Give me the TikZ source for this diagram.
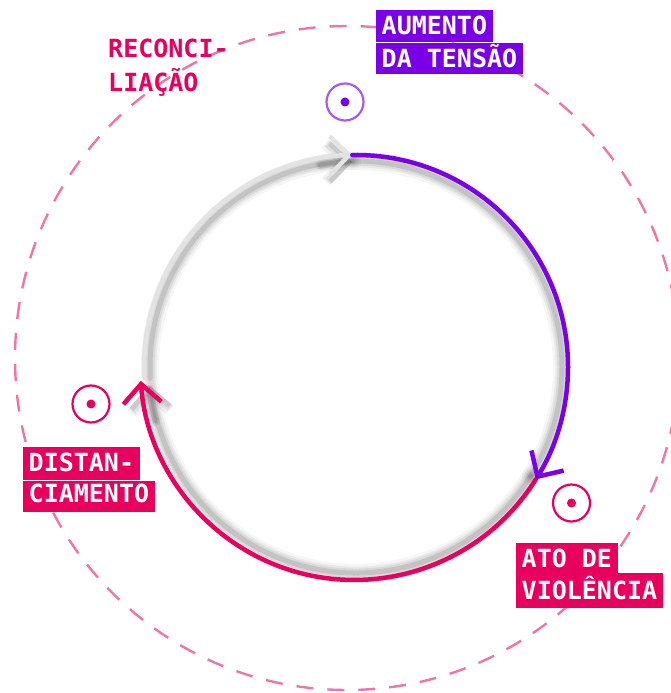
\documentclass[tikz,border=0pt]{standalone}
\usepackage{fontspec}
\newfontfamily\labfont{DejaVu Sans Mono}[BoldFont={DejaVu Sans Mono Bold}]
\usetikzlibrary{arrows.meta,calc}
\definecolor{vio}{HTML}{7A00E6}
\definecolor{rasp}{HTML}{E9005E}
\begin{document}
\begin{tikzpicture}[x=1pt,y=1pt,
  labtxt/.style={font=\labfont\bfseries\fontsize{25}{30}\selectfont, inner ysep=0pt, inner xsep=5.5pt, anchor=base west},
  lab/.style={labtxt, text=white, text height=25pt, text depth=7pt},
  marker/.style={draw, line width=2.2pt, circle, minimum size=37pt, inner sep=0pt},
  barb/.style={-{Straight Barb[length=19pt, width=38pt]}},
  ring/.style={line width=4.5pt, line cap=round},
  shadowline/.style={black, line cap=round}
]
\useasboundingbox (0,0) rectangle (671,693);
\coordinate (c) at (356,326);
\coordinate (oc) at (347,335);

% outer dashed circle
\draw[rasp!55!white, line width=2.4pt, dash pattern=on 17pt off 14pt, dash phase=5pt] (oc) circle[radius=332];

% shadows
\foreach \w/\o in {18/0.035, 13/0.05, 9/0.07, 5/0.1}{
  \draw[shadowline, opacity=\o, line width=\w pt] ($(c)+(183:206)$) arc[start angle=183, end angle=91, radius=206];
  \draw[shadowline, opacity=\o, line width=\w pt] ($(c)+(91:206)$) arc[start angle=91, end angle=-32, radius=206];
  \draw[shadowline, opacity=\o, line width=\w pt] ($(c)+(-32:206)$) arc[start angle=-32, end angle=-174, radius=206];
}
\foreach \w/\o in {11/0.05, 8/0.07, 5/0.1}{
  \draw[shadowline, opacity=\o, line width=\w pt, barb] ($(c)+(100:205)$) arc[start angle=100, end angle=91, radius=205];
  \draw[shadowline, opacity=\o, line width=\w pt, barb] ($(c)+(-165:208)$) arc[start angle=-165, end angle=-175, radius=208];
}

% main arcs
\draw[ring, gray!22, barb] ($(c)+(183:212)$) arc[start angle=183, end angle=91, radius=212];
\draw[ring, rasp, barb] ($(c)+(-32:212)$) arc[start angle=-32, end angle=-176, radius=214];
\draw[ring, vio, barb] ($(c)+(91:212)$) arc[start angle=91, end angle=-32, radius=212];

% markers
\node[marker, draw=vio!65!white] (mkA) at (345,591) {};
\fill[vio] (mkA.center) circle[radius=4.5];
\node[marker, draw=rasp] (mkB) at (571.5,190) {};
\fill[rasp] (mkB.center) circle[radius=4.5];
\node[marker, draw=rasp] (mkC) at (91,289) {};
\fill[rasp] (mkC.center) circle[radius=4.5];

% labels
\node[lab, fill=vio] (aum1) at (376,658) {AUMENTO};
\node[lab, fill=vio, text depth=6pt] (aum2) at (376,625) {DA TENSÃO};

\node[labtxt, text=rasp, inner xsep=0pt] (rec1) at (108,635) {RECONCI-};
\node[labtxt, text=rasp, inner xsep=0pt] (rec2) at (108,601) {LIAÇÃO};

\node[lab, fill=rasp, text depth=8pt] (dis1) at (23,221) {DISTAN-};
\node[lab, fill=rasp, text height=22pt, text depth=9pt] (dis2) at (23,190) {CIAMENTO};

\node[lab, fill=rasp, text depth=5pt] (ato1) at (516,125) {ATO DE};
\node[lab, fill=rasp, text height=27pt, text depth=8pt] (ato2) at (516,93) {VIOLÊNCIA};
\end{tikzpicture}
\end{document}
